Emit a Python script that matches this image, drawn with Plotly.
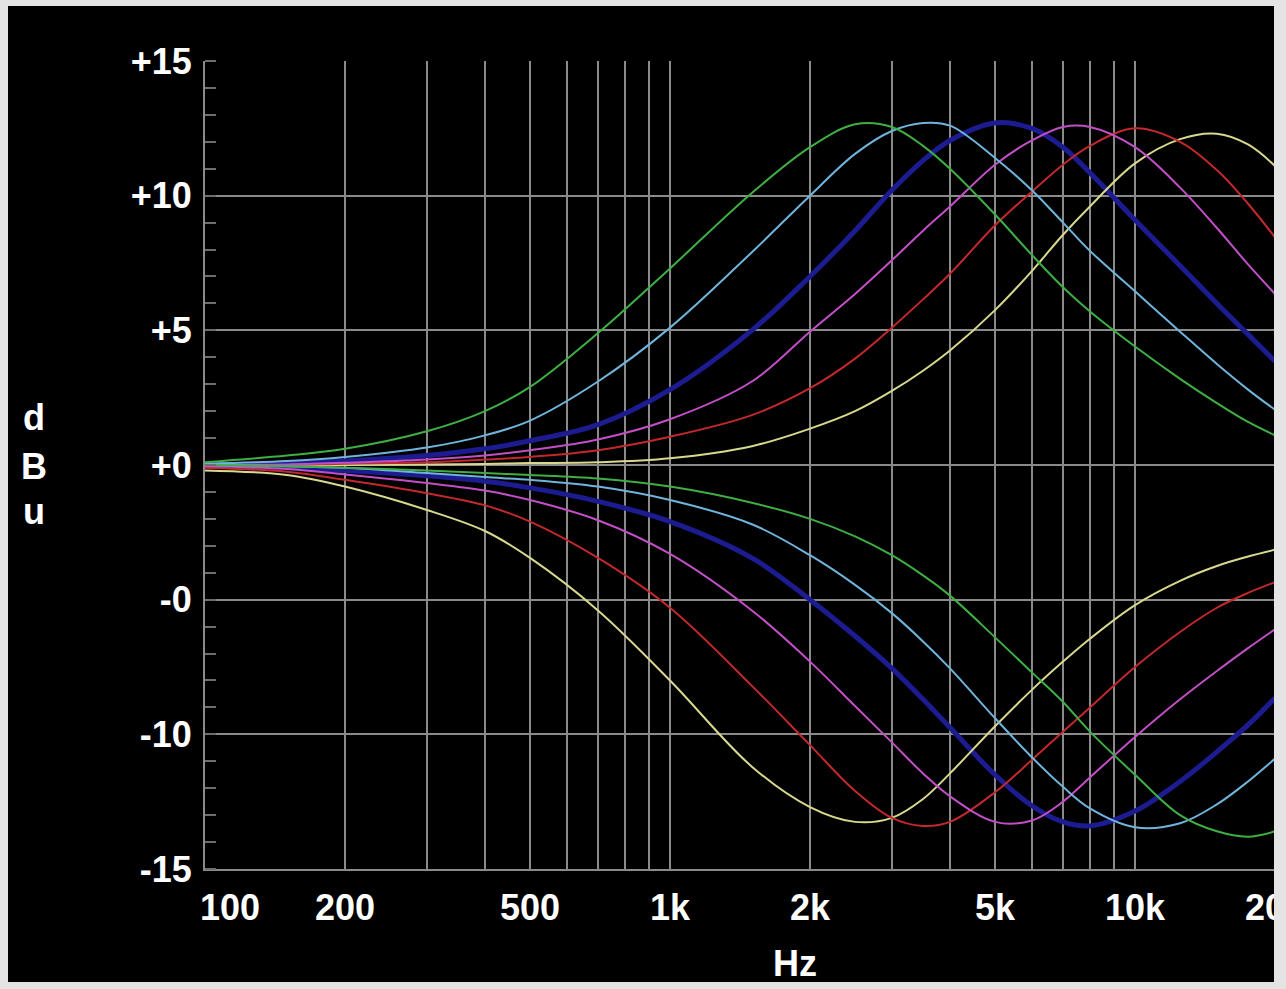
import plotly.graph_objects as go

# ---------------- data ----------------
FREQ_HZ = [100, 150, 200, 300, 400, 500, 700, 1000, 1500, 2000, 2500, 3000,
           3500, 4000, 5000, 6000, 7000, 8000, 10000, 12500, 15000, 17500, 20000]

BOOST_GREEN = [0.1, 0.35, 0.6, 1.25, 2.0, 2.9, 4.9, 7.3, 10.1, 11.8, 12.65, 12.55,
               11.85, 11.0, 9.3, 7.8, 6.6, 5.7, 4.4, 3.2, 2.3, 1.6, 1.1]
BOOST_CYAN = [0.05, 0.15, 0.3, 0.65, 1.1, 1.65, 3.1, 5.1, 7.9, 10.0, 11.55, 12.4,
              12.7, 12.6, 11.4, 10.2, 9.0, 7.95, 6.45, 4.95, 3.75, 2.8, 2.05]
BOOST_BLUE = [0.0, 0.05, 0.15, 0.35, 0.6, 0.9, 1.5, 2.8, 5.0, 7.0, 8.7, 10.2,
              11.3, 12.05, 12.7, 12.5, 11.8, 10.85, 9.1, 7.4, 6.0, 4.85, 3.85]
BOOST_MAGENTA = [0.0, 0.02, 0.08, 0.2, 0.35, 0.55, 0.95, 1.7, 3.1, 4.95, 6.35, 7.6,
                 8.7, 9.6, 11.15, 12.05, 12.55, 12.55, 11.8, 10.3, 8.8, 7.45, 6.35]
BOOST_RED = [0.0, 0.0, 0.05, 0.1, 0.2, 0.3, 0.55, 1.05, 1.85, 2.85, 3.95, 5.1,
             6.15, 7.1, 8.9, 10.15, 11.15, 11.85, 12.5, 12.0, 10.95, 9.7, 8.45]
BOOST_YELLOW = [0.0, 0.0, 0.0, 0.02, 0.04, 0.07, 0.1, 0.25, 0.7, 1.35, 2.0, 2.75,
                3.5, 4.25, 5.75, 7.2, 8.55, 9.6, 11.2, 12.1, 12.3, 11.9, 11.1]

CUT_YELLOW = [-0.2, -0.37, -0.8, -1.67, -2.45, -3.45, -5.4, -8.0, -11.2, -12.7, -13.25, -13.1,
              -12.4, -11.45, -9.7, -8.35, -7.3, -6.45, -5.2, -4.3, -3.75, -3.4, -3.15]
CUT_RED = [-0.1, -0.25, -0.55, -1.05, -1.5, -2.1, -3.45, -5.3, -8.2, -10.4, -12.1, -13.1,
           -13.4, -13.25, -12.15, -10.95, -9.9, -9.0, -7.5, -6.2, -5.3, -4.75, -4.35]
CUT_MAGENTA = [-0.05, -0.15, -0.35, -0.67, -0.95, -1.3, -2.05, -3.3, -5.4, -7.3, -8.95, -10.3,
               -11.45, -12.3, -13.25, -13.2, -12.5, -11.6, -10.1, -8.7, -7.65, -6.8, -6.1]
CUT_BLUE = [0.0, -0.1, -0.2, -0.4, -0.6, -0.85, -1.35, -2.1, -3.45, -5.0, -6.35, -7.55,
            -8.7, -9.75, -11.5, -12.65, -13.25, -13.4, -12.85, -11.75, -10.65, -9.65, -8.65]
CUT_CYAN = [0.0, -0.05, -0.1, -0.3, -0.45, -0.55, -0.8, -1.3, -2.2, -3.35, -4.45, -5.5,
            -6.55, -7.55, -9.4, -10.85, -11.95, -12.75, -13.45, -13.3, -12.6, -11.75, -10.9]
CUT_GREEN = [0.0, -0.05, -0.1, -0.2, -0.3, -0.37, -0.5, -0.8, -1.4, -2.0, -2.65, -3.35,
             -4.1, -4.85, -6.4, -7.7, -8.8, -9.9, -11.5, -13.0, -13.6, -13.8, -13.6]

X_TICK_VALUES = [100, 200, 300, 400, 500, 600, 700, 800, 900,
                 1000, 2000, 3000, 4000, 5000, 6000, 7000, 8000, 9000, 10000, 20000]
X_TICK_NAMES = {100: "\u00a0\u00a0\u00a0\u00a0\u00a0100", 200: "200", 500: "500",
                1000: "1k", 2000: "2k", 5000: "5k", 10000: "10k", 20000: "20k"}
Y_TICK_VALUES = [-15, -10, -5, 0, 5, 10, 15]
Y_TICK_NAMES = ["-15", "-10", "-0", "+0", "+5", "+10", "+15"]

# ---------------- styling ----------------
COL_GREEN = "#3fae45"
COL_CYAN = "#70b4dc"
COL_BLUE = "#1c1c90"
COL_MAGENTA = "#c24fc6"
COL_RED = "#c2282c"
COL_YELLOW = "#d8d88e"
GRID = "#8a8a8a"
BORDER = "#e4e4e4"
FONT = "Liberation Sans, Arial, sans-serif"

traces = [
    (BOOST_BLUE, COL_BLUE, 5),
    (CUT_BLUE, COL_BLUE, 5),
    (BOOST_YELLOW, COL_YELLOW, 2),
    (CUT_YELLOW, COL_YELLOW, 2),
    (BOOST_RED, COL_RED, 2),
    (CUT_RED, COL_RED, 2),
    (BOOST_MAGENTA, COL_MAGENTA, 2),
    (CUT_MAGENTA, COL_MAGENTA, 2),
    (BOOST_CYAN, COL_CYAN, 2),
    (CUT_CYAN, COL_CYAN, 2),
    (BOOST_GREEN, COL_GREEN, 2),
    (CUT_GREEN, COL_GREEN, 2),
]

fig = go.Figure()
for vals, col, w in traces:
    fig.add_trace(go.Scatter(
        x=FREQ_HZ, y=vals, mode="lines",
        line=dict(color=col, width=w, shape="spline", smoothing=1.0),
        showlegend=False, hoverinfo="skip",
    ))

W, H = 1286, 989
L, R, T, B = 205, 11, 61, 120
pw, ph = W - L - R, H - T - B


def px(xp):
    return (xp - L) / pw


def py(yp):
    return (H - B - yp) / ph


fig.update_layout(
    width=W, height=H,
    margin=dict(l=L, r=R, t=T, b=B, pad=0, autoexpand=False),
    paper_bgcolor=BORDER,
    plot_bgcolor="#000000",
    font=dict(family=FONT, color="white", size=36, weight="bold"),
    xaxis=dict(
        type="log", range=[2, 4.30103],
        tickmode="array", tickvals=X_TICK_VALUES,
        ticktext=[X_TICK_NAMES.get(v, "") for v in X_TICK_VALUES],
        showgrid=True, gridcolor=GRID, gridwidth=2,
        showline=True, linecolor=GRID, linewidth=2,
        ticks="", ticklabelstandoff=6, ticklabeloverflow="allow",
        tickfont=dict(family=FONT, size=36, color="white", weight="bold"),
        zeroline=False,
    ),
    yaxis=dict(
        range=[-15, 15],
        tickmode="array", tickvals=Y_TICK_VALUES, ticktext=Y_TICK_NAMES,
        showgrid=True, gridcolor=GRID, gridwidth=2,
        showline=True, linecolor=GRID, linewidth=2,
        ticks="", ticklabelstandoff=4,
        minor=dict(ticks="inside", dtick=1, tick0=0, ticklen=11,
                   tickcolor="#6e6e6e", tickwidth=2, showgrid=False),
        tickfont=dict(family=FONT, size=36, color="white", weight="bold"),
        zeroline=False,
    ),
    shapes=[
        dict(type="rect", xref="paper", yref="paper", layer="below",
             x0=px(8), x1=px(1274), y0=py(982), y1=py(6),
             fillcolor="#000000", line=dict(width=0)),
        dict(type="rect", xref="paper", yref="paper", layer="above",
             x0=px(1274), x1=px(1290), y0=py(995), y1=py(-5),
             fillcolor=BORDER, line=dict(width=0)),
    ],
    annotations=[
        dict(text="d", x=px(34), y=py(418), xref="paper", yref="paper",
             showarrow=False, xanchor="center", yanchor="middle"),
        dict(text="B", x=px(34), y=py(466), xref="paper", yref="paper",
             showarrow=False, xanchor="center", yanchor="middle"),
        dict(text="u", x=px(34), y=py(512), xref="paper", yref="paper",
             showarrow=False, xanchor="center", yanchor="middle"),
        dict(text="Hz", x=px(795), y=py(963), xref="paper", yref="paper",
             showarrow=False, xanchor="center", yanchor="middle"),
    ],
)

fig.write_html("out.html",
               config={"displayModeBar": False},
               post_script="document.body.style.margin='0';document.body.style.overflow='hidden';")
